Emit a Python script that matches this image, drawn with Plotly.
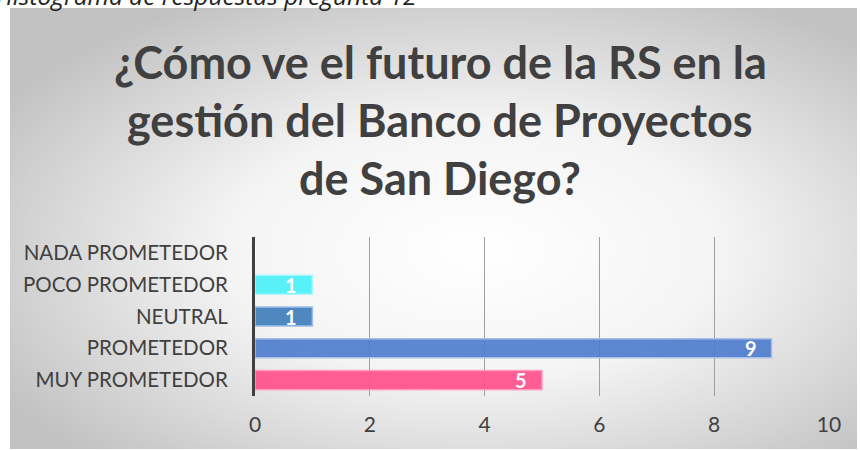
import base64
import plotly.graph_objects as go

categories = ["MUY PROMETEDOR", "PROMETEDOR", "NEUTRAL", "POCO PROMETEDOR", "NADA PROMETEDOR"]
values = [5, 9, 1, 1, 0]
bar_colors = ["rgba(255,80,140,0.92)", "rgba(80,125,205,0.92)", "rgba(70,130,190,0.95)",
              "rgba(80,240,248,0.95)", "rgba(200,200,200,1)"]
edge_colors = ["#ff9dbd", "#a9c0ea", "#9dc0e6", "#a8f7fa", "#ffffff"]
x_ticks = [0, 2, 4, 6, 8, 10]
title_lines = ["¿Cómo ve el futuro de la RS en la", "gestión del Banco de Proyectos", "de San Diego?"]
caption = "Histograma de respuestas pregunta 12"

W, H = 860, 450
def px(x):
    return x / W
def py(y):
    return 1 - y / H

svg = f'''<svg xmlns="http://www.w3.org/2000/svg" width="847" height="441" viewBox="0 0 847 441" preserveAspectRatio="none">
<defs><radialGradient id="g" cx="55%" cy="55%" r="65%">
<stop offset="0%" stop-color="#ffffff"/>
<stop offset="45%" stop-color="#f4f4f4"/>
<stop offset="100%" stop-color="#c2c2c2"/>
</radialGradient></defs>
<rect width="847" height="441" fill="url(#g)"/></svg>'''
bg_src = "data:image/svg+xml;base64," + base64.b64encode(svg.encode()).decode()

fig = go.Figure()
fig.add_trace(go.Bar(
    y=categories, x=values, orientation="h",
    marker=dict(color=bar_colors, line=dict(color=edge_colors, width=1.5)),
    cliponaxis=False, hoverinfo="skip",
))

annotations = []
for cat, v in zip(categories, values):
    if v:
        annotations.append(dict(
            text=str(v), x=v, y=cat, xref="x", yref="y", xanchor="center", yanchor="middle",
            xshift=-21, showarrow=False,
            font=dict(family="Lato", size=20, color="white", weight="bold")))
for i, line in enumerate(title_lines):
    annotations.append(dict(
        text=line, xref="paper", yref="paper", x=px(440), y=py(62 + 58 * i),
        xanchor="center", yanchor="middle", showarrow=False,
        font=dict(family="Lato", size=45, color="#404040", weight="bold")))
annotations.append(dict(
    text="<i>" + caption + "</i>", xref="paper", yref="paper", x=px(-6), y=py(-5),
    xanchor="left", yanchor="middle", showarrow=False,
    font=dict(family="Open Sans", size=24.5, color="#222222")))

fig.update_layout(
    template="none",
    width=W, height=H,
    margin=dict(l=0, r=0, t=0, b=0, pad=0),
    paper_bgcolor="white", plot_bgcolor="rgba(0,0,0,0)",
    showlegend=False, bargap=0.4,
    images=[dict(source=bg_src, xref="paper", yref="paper", x=px(10), y=py(8),
                 sizex=847 / W, sizey=441 / H, sizing="stretch", layer="below",
                 xanchor="left", yanchor="top")],
    annotations=annotations,
    xaxis=dict(domain=[px(255), px(829)], range=[0, 10], tickvals=x_ticks, automargin=False,
               showgrid=True, gridcolor="#a0a0a0", gridwidth=1, zeroline=False,
               showline=False, ticks="", ticklabelstandoff=14,
               tickfont=dict(family="Lato", size=21, color="#404040")),
    yaxis=dict(domain=[py(396), py(237)], categoryorder="array", categoryarray=categories,
               automargin=False, showline=True, linecolor="#404040", linewidth=3,
               showgrid=False, zeroline=False, ticks="", ticklabelstandoff=20,
               tickfont=dict(family="Lato", size=20.5, color="#404040")),
)

fig.write_html("out.html", config={"displayModeBar": False},
               post_script="document.body.style.margin='0';document.body.style.overflow='hidden';")
